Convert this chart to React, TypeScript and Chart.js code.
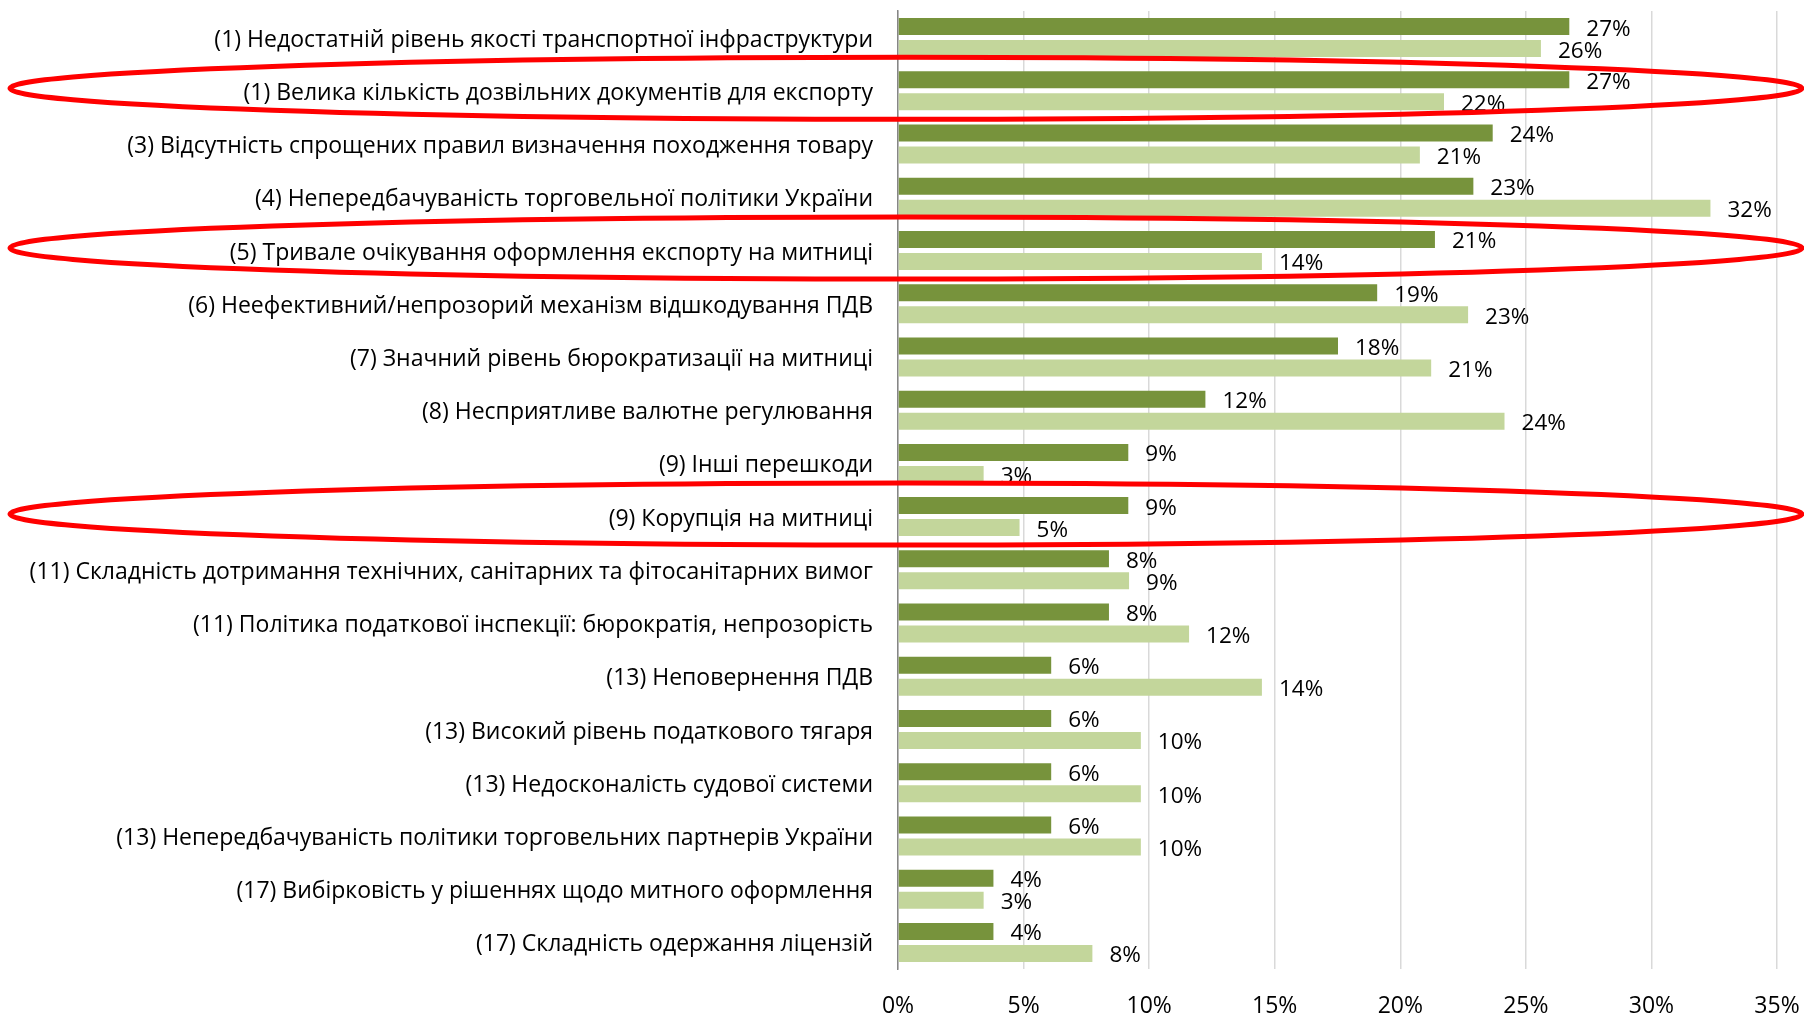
import { useEffect, useRef } from "react";
import { Chart, registerables } from "chart.js";

Chart.register(...registerables);

const categories: string[] = [
  "(1) Недостатній рівень якості транспортної інфраструктури",
  "(1) Велика кількість дозвільних документів для експорту",
  "(3) Відсутність спрощених правил визначення походження товару",
  "(4) Непередбачуваність торговельної політики України",
  "(5) Тривале очікування оформлення експорту на митниці",
  "(6) Неефективний/непрозорий механізм відшкодування ПДВ",
  "(7) Значний рівень бюрократизації на митниці",
  "(8) Несприятливе валютне регулювання",
  "(9) Інші перешкоди",
  "(9) Корупція на митниці",
  "(11) Складність дотримання технічних, санітарних та фітосанітарних вимог",
  "(11) Політика податкової інспекції: бюрократія, непрозорість",
  "(13) Неповернення ПДВ",
  "(13) Високий рівень податкового тягаря",
  "(13) Недосконалість судової системи",
  "(13) Непередбачуваність політики торговельних партнерів України",
  "(17) Вибірковість у рішеннях щодо митного оформлення",
  "(17) Складність одержання ліцензій",
];

const seriesDark: number[] = [
  26.73, 26.73, 23.68, 22.91, 21.38, 19.08, 17.52, 12.24, 9.17, 9.17, 8.4, 8.4,
  6.1, 6.1, 6.1, 6.1, 3.8, 3.8,
];

const seriesLight: number[] = [
  25.6, 21.74, 20.78, 32.35, 14.49, 22.7, 21.23, 24.15, 3.41, 4.84, 9.2, 11.59,
  14.49, 9.67, 9.67, 9.67, 3.41, 7.74,
];

const highlightedCategories: number[] = [1, 4, 9];

const xMin = 0;
const xMax = 35;
const xStep = 5;

const FONT = '"Open Sans", "Liberation Sans", sans-serif';

export default function App() {
  const ref = useRef<HTMLCanvasElement>(null);

  useEffect(() => {
    if (!ref.current) return;

    const valueLabels = {
      id: "valueLabels",
      afterDatasetsDraw(chart: any) {
        const ctx = chart.ctx;
        ctx.save();
        ctx.font = `22.5px ${FONT}`;
        ctx.fillStyle = "#000";
        ctx.textAlign = "left";
        ctx.textBaseline = "middle";
        chart.data.datasets.forEach((ds: any, di: number) => {
          const meta = chart.getDatasetMeta(di);
          meta.data.forEach((el: any, i: number) => {
            const v = ds.data[i] as number;
            ctx.fillText(Math.round(v) + "%", el.x + 17, el.y + 2.5);
          });
        });
        ctx.restore();
      },
    };

    const ellipses = {
      id: "ellipses",
      afterDraw(chart: any) {
        const ctx = chart.ctx;
        const y = chart.scales.y;
        ctx.save();
        ctx.strokeStyle = "#ff0000";
        ctx.lineWidth = 5;
        highlightedCategories.forEach((i) => {
          const cy = y.getPixelForValue(i) - 2.5;
          ctx.beginPath();
          ctx.ellipse(chart.width / 2 + 4, cy, chart.width / 2 - 6, 31, 0, 0, Math.PI * 2);
          ctx.stroke();
        });
        ctx.restore();
      },
    };

    const chart = new Chart(ref.current, {
      type: "bar",
      data: {
        labels: categories,
        datasets: [
          {
            label: "Ряд 1",
            data: seriesDark,
            backgroundColor: "#77933C",
            categoryPercentage: 0.827,
            barPercentage: 0.773,
          },
          {
            label: "Ряд 2",
            data: seriesLight,
            backgroundColor: "#C3D69B",
            categoryPercentage: 0.827,
            barPercentage: 0.773,
          },
        ],
      },
      options: {
        indexAxis: "y",
        responsive: true,
        maintainAspectRatio: false,
        animation: false,
        layout: { padding: { top: 11, right: 27, bottom: 0, left: 0 } },
        plugins: {
          legend: { display: false },
          tooltip: { enabled: false },
        },
        scales: {
          x: {
            min: xMin,
            max: xMax,
            ticks: {
              stepSize: xStep,
              callback: (v: any) => v + "%",
              color: "#000",
              font: { family: FONT, size: 23 },
              padding: 24,
            },
            grid: { color: "#d9d9d9", lineWidth: 1.5, drawTicks: false },
            border: { display: false },
            afterFit: (s: any) => {
              s.height = 45;
              s.paddingLeft = 0;
              s.paddingRight = 0;
            },
          },
          y: {
            ticks: {
              color: "#000",
              font: { family: FONT, size: 23 },
              padding: 25,
              autoSkip: false,
              labelOffset: 2.5,
            },
            grid: { display: false, drawTicks: false },
            border: { display: true, color: "#868686", width: 1.5 },
            afterFit: (s: any) => {
              s.width = 898;
              s.paddingTop = 0;
              s.paddingBottom = 0;
            },
          },
        },
      },
      plugins: [valueLabels, ellipses],
    });

    return () => chart.destroy();
  }, []);

  return (
    <div
      style={{
        position: "fixed",
        left: 0,
        top: 0,
        width: 1804,
        height: 1014,
        background: "#fff",
      }}
    >
      <canvas ref={ref} />
    </div>
  );
}
